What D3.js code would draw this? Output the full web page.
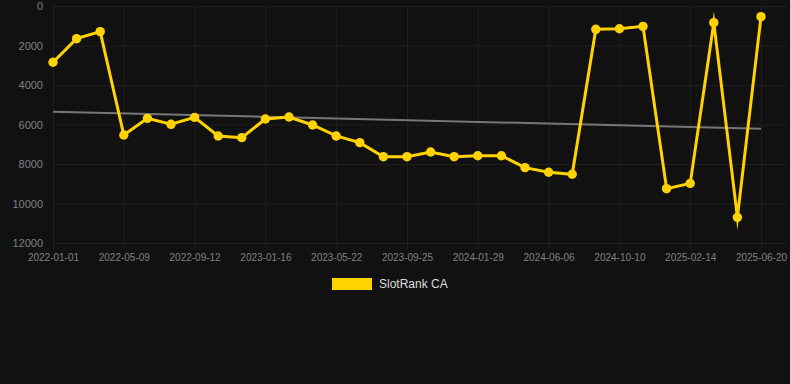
<!DOCTYPE html>
<html><head><meta charset="utf-8">
<script src="https://cdn.jsdelivr.net/npm/d3@7"></script>
<style>
html,body{margin:0;padding:0;background:#111111;}
svg{display:block;font-family:"Liberation Sans",Arial,Helvetica,sans-serif;}
</style></head>
<body><svg id="c" width="790" height="384"></svg>
<script>
const dates = ["2022-01-01","2022-02-12","2022-03-26","2022-05-09","2022-06-20","2022-08-01","2022-09-12","2022-10-24","2022-12-05","2023-01-16","2023-02-27","2023-04-10","2023-05-22","2023-07-03","2023-08-14","2023-09-25","2023-11-06","2023-12-18","2024-01-29","2024-03-11","2024-04-23","2024-06-06","2024-07-18","2024-08-29","2024-10-10","2024-11-21","2025-01-03","2025-02-14","2025-03-28","2025-05-09","2025-06-20"];
const rank = [2850,1655,1300,6530,5690,5990,5640,6580,6665,5720,5620,6025,6580,6920,7630,7630,7390,7630,7580,7580,8185,8420,8520,1180,1150,1030,9250,8980,845,10700,540];
const tickDates = ["2022-01-01","2022-05-09","2022-09-12","2023-01-16","2023-05-22","2023-09-25","2024-01-29","2024-06-06","2024-10-10","2025-02-14","2025-06-20"];
const yTicks = [0,2000,4000,6000,8000,10000,12000];
const trend = [5350,6210];
const seriesName = "SlotRank CA";

(function(){
const svg = d3.select("#c");
const mLeft = 53, mRight = 761, gridRight = 787, mTop = 6, mBottom = 243;
const x = d3.scalePoint().domain(dates).range([mLeft, mRight]);
const y = d3.scaleLinear().domain([0,12000]).range([mTop, mBottom]);
const gridColor = "#1f1f1f";

const yAxis = d3.axisLeft(y).tickValues(yTicks).tickSize(0).tickPadding(10).tickFormat(d3.format("d"));
const gy = svg.append("g").attr("transform",`translate(${mLeft},0)`).call(yAxis);
gy.select(".domain").remove();
gy.selectAll(".tick text").attr("fill","#808080").attr("font-size","11px").attr("font-family","Liberation Sans, Arial, sans-serif");
gy.selectAll(".tick").append("line").attr("x1",0).attr("x2",gridRight-mLeft).attr("stroke",gridColor).attr("stroke-width",1);

const xAxis = d3.axisBottom(x).tickValues(tickDates).tickSize(6).tickPadding(5);
const gx = svg.append("g").attr("transform",`translate(0,${mBottom})`).call(xAxis);
gx.select(".domain").remove();
gx.selectAll(".tick line").attr("stroke",gridColor);
gx.selectAll(".tick").append("line").attr("y1",0).attr("y2",mTop-mBottom).attr("stroke",gridColor);
gx.selectAll(".tick text").attr("fill","#808080").attr("font-size","10px").attr("font-family","Liberation Sans, Arial, sans-serif");

svg.append("line")
  .attr("x1",x(dates[0])).attr("x2",x(dates[dates.length-1]))
  .attr("y1",y(trend[0])).attr("y2",y(trend[1]))
  .attr("stroke","#777777").attr("stroke-width",2);

const col = "#ffd200";
const line = d3.line().x((d,i)=>x(dates[i])).y(d=>y(d));
svg.append("path").datum(rank).attr("d",line)
  .attr("fill","none").attr("stroke",col).attr("stroke-width",3)
  .attr("stroke-linejoin","miter").attr("stroke-miterlimit",10);
svg.append("g").selectAll("circle").data(rank).join("circle")
  .attr("cx",(d,i)=>x(dates[i])).attr("cy",d=>y(d)).attr("r",4.7).attr("fill",col);

const lg = svg.append("g");
lg.append("rect").attr("x",332).attr("y",278).attr("width",40).attr("height",12).attr("fill",col);
lg.append("text").attr("x",379).attr("y",284).attr("dy","0.35em").attr("fill","#dddddd")
  .attr("font-size","12px").text(seriesName);
})();
</script></body></html>
